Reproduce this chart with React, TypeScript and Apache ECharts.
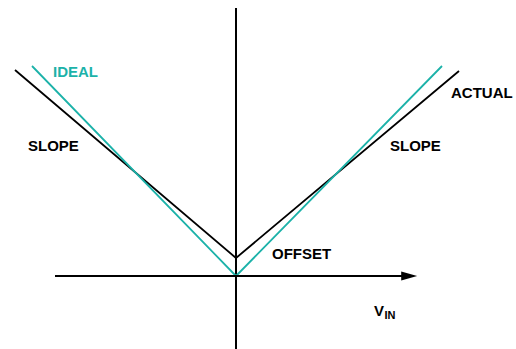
import React, { useEffect, useRef } from "react";
import * as echarts from "echarts";

// Transfer characteristic of a full-wave rectifier: ideal vs actual.
// Units: normalised input (x) and output (y).
const idealX = [-1.02, 0, 1.03];
const idealY = [1.05, 0, 1.05];
const actualX = [-1.105, 0, 1.115];
const actualY = [1.03, 0.09, 1.025];

// Drawn coordinate axes (horizontal arrow and vertical line)
const hAxisX = [-0.905, 0.866];
const vAxisY = [-0.37, 1.34];

const TEAL = "#1cb2a9";
const FONT = "'Liberation Sans', Arial, Helvetica, sans-serif";

const labels = [
  { text: "IDEAL", x: 53, y: 71, color: TEAL, size: 15 },
  { text: "SLOPE", x: 28, y: 145, color: "#000", size: 15 },
  { text: "ACTUAL", x: 451, y: 92, color: "#000", size: 15 },
  { text: "SLOPE", x: 390, y: 145, color: "#000", size: 15 },
  { text: "OFFSET", x: 272, y: 253, color: "#000", size: 15 },
  { text: "V", x: 374, y: 310, color: "#000", size: 15 },
  { text: "IN", x: 384.5, y: 315, color: "#000", size: 11 },
];

export default function App() {
  const ref = useRef<HTMLDivElement>(null);

  useEffect(() => {
    if (!ref.current) return;
    const chart = echarts.init(ref.current, undefined, { renderer: "svg" });
    const zip = (xs: number[], ys: number[]) => xs.map((x, i) => [x, ys[i]]);

    chart.setOption({
      animation: false,
      backgroundColor: "#fff",
      grid: { left: 0, top: 0, width: 516, height: 349 },
      xAxis: { type: "value", min: -1.18, max: 1.4, show: false },
      yAxis: { type: "value", min: -0.365, max: 1.38, show: false },
      series: [
        {
          name: "axis-v",
          type: "line",
          data: [
            [0, vAxisY[0]],
            [0, vAxisY[1]],
          ],
          symbol: "none",
          lineStyle: { color: "#000", width: 2 },
          clip: false,
          silent: true,
        },
        {
          name: "axis-h",
          type: "line",
          data: [],
          silent: true,
          markLine: {
            silent: true,
            animation: false,
            symbol: ["none", "triangle"],
            symbolSize: [9, 16],
            label: { show: false },
            lineStyle: { color: "#000", width: 2, type: "solid" },
            data: [[{ coord: [hAxisX[0], 0] }, { coord: [hAxisX[1], 0] }]],
          },
        },
        {
          name: "Actual",
          type: "line",
          data: zip(actualX, actualY),
          symbol: "none",
          lineStyle: { color: "#000", width: 1.8 },
          clip: false,
        },
        {
          name: "Ideal",
          type: "line",
          data: zip(idealX, idealY),
          symbol: "none",
          lineStyle: { color: TEAL, width: 1.8 },
          clip: false,
        },
      ],
      graphic: labels.map((l) => ({
        type: "text",
        x: l.x,
        y: l.y,
        silent: true,
        style: {
          text: l.text,
          fill: l.color,
          fontSize: l.size,
          fontWeight: "bold",
          fontFamily: FONT,
          verticalAlign: "middle",
          align: "left",
        },
      })),
    });

    return () => chart.dispose();
  }, []);

  return (
    <div
      ref={ref}
      style={{ position: "fixed", left: 0, top: 0, width: 516, height: 349 }}
    />
  );
}
